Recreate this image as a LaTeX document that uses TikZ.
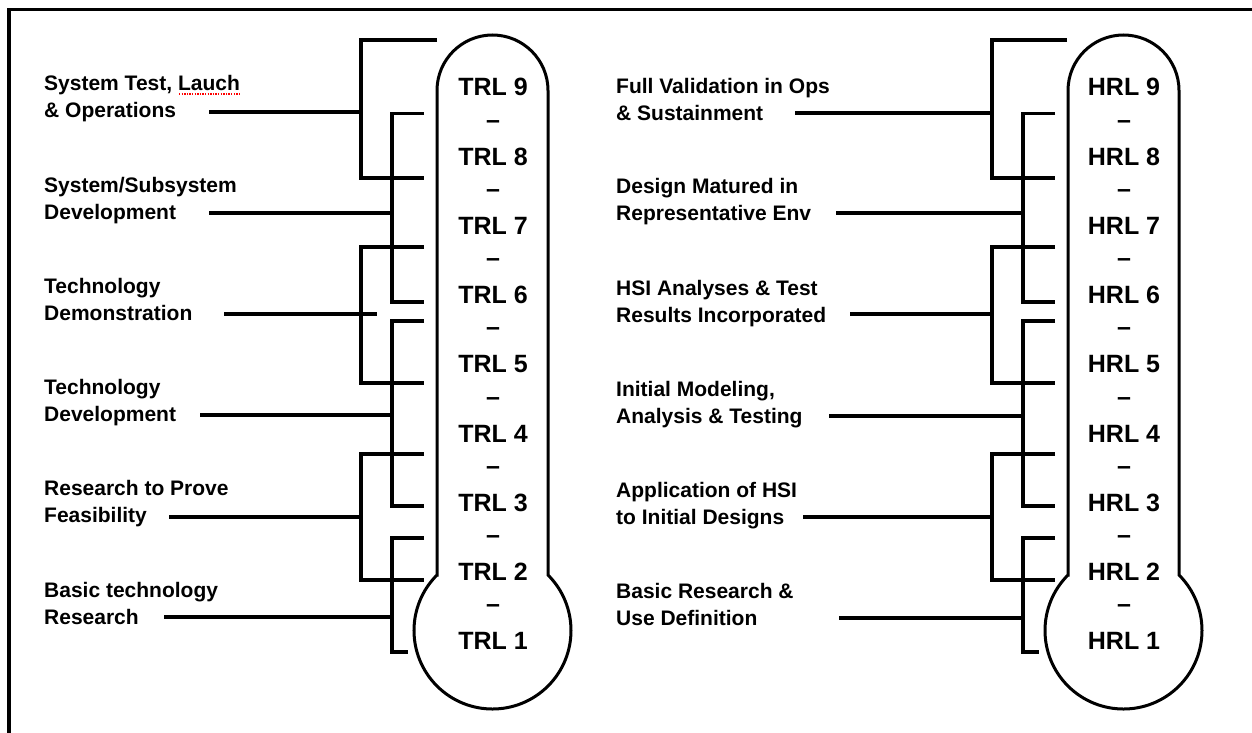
\documentclass[tikz,border=0pt]{standalone}
\usepackage{fontspec}
\setmainfont{Liberation Sans}
\begin{document}
\begin{tikzpicture}[x=1pt,y=-1pt,
  conn/.style={line width=3.4pt, line join=miter, line cap=butt},
  tube/.style={line width=3pt, line join=miter},
  lab/.style={anchor=base west, inner sep=0pt, font=\fontsize{21}{27}\selectfont\bfseries},
  lvl/.style={anchor=base, inner sep=0pt, font=\fontsize{25}{30}\selectfont\bfseries},
  frame/.style={line width=3.5pt},
  spell/.style={red, line width=1.3pt, dash pattern=on 1.3pt off 1.3pt}]
\useasboundingbox (0,0) rectangle (1252,733);

% frame (only top and left edges visible)
\coordinate (F0) at (9,9.5);
\coordinate (F1) at (1254,9.5);
\coordinate (F2) at (9,735);
\draw[frame] (F1) -- (F0) -- (F2);

% thermometers
\draw[tube] (437,575) -- (437,90.5) arc[start angle=180,end angle=0,radius=55.5pt]
  -- (548,575) arc[start angle=45,end angle=-225,radius=78.5pt] -- cycle;
\draw[tube] (1068,575) -- (1068,90.5) arc[start angle=180,end angle=0,radius=55.5pt]
  -- (1179,575) arc[start angle=45,end angle=-225,radius=78.5pt] -- cycle;

% level texts
\foreach \n in {1,...,9}{
  \node[lvl] (T\n) at (493,{96+(9-\n)*69.2}) {TRL \n};
  \node[lvl] (H\n) at (1124,{96+(9-\n)*69.2}) {HRL \n};
}
\foreach \n in {2,...,9}{
  \node[lvl] (Td\n) at (493,{128.3+(9-\n)*69.2}) {\textendash};
  \node[lvl] (Hd\n) at (1124,{128.3+(9-\n)*69.2}) {\textendash};
}

% ---------- left side ----------
\coordinate (Lo) at (361,0);
\coordinate (Li) at (392,0);
\coordinate (L9)  at (437,40);
\coordinate (L8a) at (424,113.5);
\coordinate (L8b) at (424,178);
\coordinate (L7a) at (424,247);
\coordinate (L6b) at (424,302);
\coordinate (L6a) at (424,321);
\coordinate (L5b) at (424,383);
\coordinate (L4a) at (424,454);
\coordinate (L3b) at (424,506);
\coordinate (L3a) at (424,538);
\coordinate (L2b) at (424,580);
\coordinate (L1b) at (408,652);

\draw[conn] (L9)  -| (Lo |- L8b) -- (L8b);
\draw[conn] (L8a) -| (Li |- L6b) -- (L6b);
\draw[conn] (L7a) -| (Lo |- L5b) -- (L5b);
\draw[conn] (L6a) -| (Li |- L3b) -- (L3b);
\draw[conn] (L4a) -| (Lo |- L2b) -- (L2b);
\draw[conn] (L3a) -| (Li |- L1b) -- (L1b);

\node[lab] (Ll1) at (44,117.5) {\begin{tabular}[b]{@{}l@{}}System Test, Lauch\\\& Operations\end{tabular}};
\node[lab] (Ll2) at (44,219.5) {\begin{tabular}[b]{@{}l@{}}System/Subsystem\\Development\end{tabular}};
\node[lab] (Ll3) at (44,320.5) {\begin{tabular}[b]{@{}l@{}}Technology\\Demonstration\end{tabular}};
\node[lab] (Ll4) at (44,421.5) {\begin{tabular}[b]{@{}l@{}}Technology\\Development\end{tabular}};
\node[lab] (Ll5) at (44,522.5) {\begin{tabular}[b]{@{}l@{}}Research to Prove\\Feasibility\end{tabular}};
\node[lab] (Ll6) at (44,624.5) {\begin{tabular}[b]{@{}l@{}}Basic technology\\Research\end{tabular}};

\coordinate (Ls1) at (179,94);
\coordinate (Ls2) at (241,94);
\draw[spell] (Ls1) -- (Ls2);

\coordinate (Lc1) at (209,112);
\coordinate (Lc2) at (209,213);
\coordinate (Lc3) at (224,314);
\coordinate (Lc3e) at (377,314);
\coordinate (Lc4) at (200,415);
\coordinate (Lc5) at (169,517);
\coordinate (Lc6) at (164,617);
\draw[conn] (Lc1) -- (Lc1 -| Lo);
\draw[conn] (Lc2) -- (Lc2 -| Li);
\draw[conn] (Lc3) -- (Lc3e);
\draw[conn] (Lc4) -- (Lc4 -| Li);
\draw[conn] (Lc5) -- (Lc5 -| Lo);
\draw[conn] (Lc6) -- (Lc6 -| Li);

% ---------- right side ----------
\coordinate (Ro) at (992,0);
\coordinate (Ri) at (1023,0);
\coordinate (R9)  at (1067,40);
\coordinate (R8a) at (1055,113.5);
\coordinate (R8b) at (1055,178);
\coordinate (R7a) at (1055,247);
\coordinate (R6b) at (1055,302);
\coordinate (R6a) at (1055,321);
\coordinate (R5b) at (1055,383);
\coordinate (R4a) at (1055,454);
\coordinate (R3b) at (1055,506);
\coordinate (R3a) at (1055,538);
\coordinate (R2b) at (1055,580);
\coordinate (R1b) at (1039,652);

\draw[conn] (R9)  -| (Ro |- R8b) -- (R8b);
\draw[conn] (R8a) -| (Ri |- R6b) -- (R6b);
\draw[conn] (R7a) -| (Ro |- R5b) -- (R5b);
\draw[conn] (R6a) -| (Ri |- R3b) -- (R3b);
\draw[conn] (R4a) -| (Ro |- R2b) -- (R2b);
\draw[conn] (R3a) -| (Ri |- R1b) -- (R1b);

\node[lab] (Rl1) at (616,120.5) {\begin{tabular}[b]{@{}l@{}}Full Validation in Ops\\\& Sustainment\end{tabular}};
\node[lab] (Rl2) at (616,220.5) {\begin{tabular}[b]{@{}l@{}}Design Matured in\\Representative Env\end{tabular}};
\node[lab] (Rl3) at (616,322.5) {\begin{tabular}[b]{@{}l@{}}HSI Analyses \& Test\\Results Incorporated\end{tabular}};
\node[lab] (Rl4) at (616,423.5) {\begin{tabular}[b]{@{}l@{}}Initial Modeling,\\Analysis \& Testing\end{tabular}};
\node[lab] (Rl5) at (616,524.5) {\begin{tabular}[b]{@{}l@{}}Application of HSI\\to Initial Designs\end{tabular}};
\node[lab] (Rl6) at (616,625.5) {\begin{tabular}[b]{@{}l@{}}Basic Research \&\\Use Definition\end{tabular}};

\coordinate (Rc1) at (795,113);
\coordinate (Rc2) at (836,213);
\coordinate (Rc3) at (850,314);
\coordinate (Rc4) at (829,416);
\coordinate (Rc5) at (803,517);
\coordinate (Rc6) at (839,618);
\draw[conn] (Rc1) -- (Rc1 -| Ro);
\draw[conn] (Rc2) -- (Rc2 -| Ri);
\draw[conn] (Rc3) -- (Rc3 -| Ro);
\draw[conn] (Rc4) -- (Rc4 -| Ri);
\draw[conn] (Rc5) -- (Rc5 -| Ro);
\draw[conn] (Rc6) -- (Rc6 -| Ri);
\end{tikzpicture}
\end{document}
